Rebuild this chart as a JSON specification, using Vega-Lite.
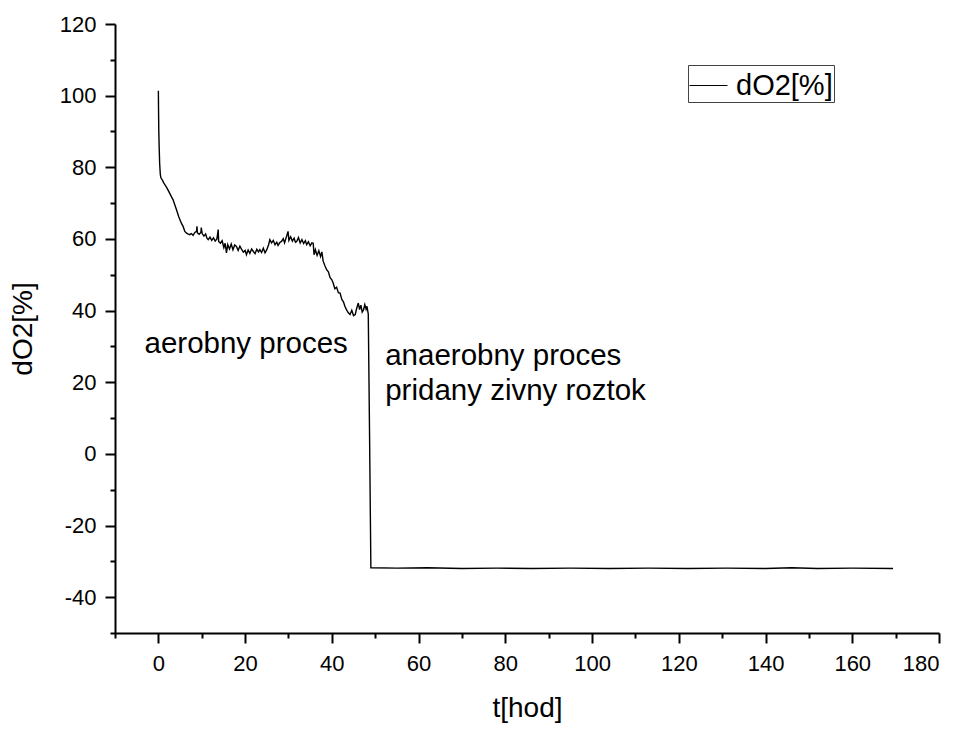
{
  "$schema": "https://vega.github.io/schema/vega-lite/v6.json",
  "autosize": "none",
  "width": 824,
  "height": 609,
  "padding": {"left": 115, "top": 24, "right": 26, "bottom": 98},
  "background": "white",
  "config": {
    "view": {"stroke": null},
    "font": "Liberation Sans",
    "axis": {
      "domainColor": "black",
      "domainWidth": 2,
      "tickColor": "black",
      "tickWidth": 2,
      "labelOverlap": false,
      "labelFont": "Liberation Sans",
      "labelFontSize": 22,
      "labelColor": "black",
      "titleFont": "Liberation Sans",
      "titleFontSize": 28,
      "titleFontWeight": "normal",
      "titleColor": "black",
      "grid": false
    }
  },
  "resolve": {"axis": {"x": "independent", "y": "independent"}},
  "layer": [
    {
      "data": {
        "values": [
          {"t": 0, "v": 101.4}, {"t": 0.05, "v": 95}, {"t": 0.1, "v": 90}, {"t": 0.2, "v": 85}, {"t": 0.3, "v": 81},
          {"t": 0.45, "v": 78}, {"t": 0.6, "v": 77}, {"t": 0.9, "v": 76.5}, {"t": 1.3, "v": 75.5}, {"t": 1.8, "v": 74.6},
          {"t": 2.3, "v": 73.5}, {"t": 3.0, "v": 71.8}, {"t": 3.4, "v": 70.9}, {"t": 3.8, "v": 69.5}, {"t": 4.2, "v": 68.1},
          {"t": 4.7, "v": 66.2}, {"t": 5.3, "v": 64.4}, {"t": 5.7, "v": 63.5}, {"t": 6.1, "v": 62.1}, {"t": 6.5, "v": 61.6},
          {"t": 6.8, "v": 61.4}, {"t": 7.2, "v": 61.2}, {"t": 7.6, "v": 61.5}, {"t": 8.0, "v": 61.0}, {"t": 8.4, "v": 61.8},
          {"t": 8.8, "v": 62.1}, {"t": 8.9, "v": 63.5}, {"t": 9.0, "v": 61.7}, {"t": 9.4, "v": 61.3}, {"t": 9.8, "v": 61.8},
          {"t": 9.9, "v": 63.2}, {"t": 10.1, "v": 61.5}, {"t": 10.5, "v": 60.8}, {"t": 10.9, "v": 61.4}, {"t": 11.2, "v": 60.2},
          {"t": 11.5, "v": 59.8}, {"t": 11.9, "v": 60.5}, {"t": 12.3, "v": 59.6}, {"t": 12.7, "v": 60.3}, {"t": 13.1, "v": 59.4},
          {"t": 13.5, "v": 60.0}, {"t": 13.8, "v": 62.6}, {"t": 13.9, "v": 59.3}, {"t": 14.3, "v": 58.8}, {"t": 14.7, "v": 59.5},
          {"t": 15.1, "v": 57.6}, {"t": 15.4, "v": 58.8}, {"t": 15.7, "v": 56.1}, {"t": 16.0, "v": 58.4}, {"t": 16.4, "v": 57.2},
          {"t": 16.8, "v": 58.6}, {"t": 17.2, "v": 57.0}, {"t": 17.6, "v": 58.3}, {"t": 18.0, "v": 57.9}, {"t": 18.4, "v": 56.8},
          {"t": 18.8, "v": 58.0}, {"t": 19.2, "v": 57.1}, {"t": 19.6, "v": 56.3}, {"t": 20.0, "v": 56.8}, {"t": 20.3, "v": 55.6},
          {"t": 20.7, "v": 56.9}, {"t": 21.1, "v": 56.0}, {"t": 21.5, "v": 57.2}, {"t": 21.9, "v": 56.5}, {"t": 22.3, "v": 55.9},
          {"t": 22.7, "v": 57.1}, {"t": 23.1, "v": 56.4}, {"t": 23.4, "v": 57.0}, {"t": 23.8, "v": 56.2}, {"t": 24.2, "v": 57.4},
          {"t": 24.6, "v": 56.1}, {"t": 25.0, "v": 57.0}, {"t": 25.4, "v": 58.3}, {"t": 25.7, "v": 59.8}, {"t": 26.1, "v": 58.9},
          {"t": 26.5, "v": 59.6}, {"t": 26.9, "v": 58.4}, {"t": 27.3, "v": 59.1}, {"t": 27.6, "v": 58.2}, {"t": 28.0, "v": 59.0},
          {"t": 28.4, "v": 59.3}, {"t": 28.8, "v": 60.1}, {"t": 29.1, "v": 58.9}, {"t": 29.5, "v": 60.5}, {"t": 29.9, "v": 62.1},
          {"t": 30.1, "v": 59.6}, {"t": 30.5, "v": 60.6}, {"t": 30.9, "v": 59.4}, {"t": 31.3, "v": 60.2}, {"t": 31.6, "v": 59.1},
          {"t": 31.9, "v": 59.3}, {"t": 32.3, "v": 60.4}, {"t": 32.7, "v": 58.9}, {"t": 33.1, "v": 59.8}, {"t": 33.5, "v": 58.7},
          {"t": 33.9, "v": 59.5}, {"t": 34.2, "v": 58.4}, {"t": 34.6, "v": 59.2}, {"t": 35.0, "v": 58.1}, {"t": 35.4, "v": 58.9},
          {"t": 35.7, "v": 58.8}, {"t": 35.9, "v": 55.6}, {"t": 36.2, "v": 57.0}, {"t": 36.6, "v": 55.4}, {"t": 37.0, "v": 56.7},
          {"t": 37.4, "v": 55.1}, {"t": 37.7, "v": 56.4}, {"t": 38.0, "v": 53.8}, {"t": 38.4, "v": 52.5}, {"t": 38.8, "v": 51.4},
          {"t": 39.2, "v": 50.8}, {"t": 39.6, "v": 49.2}, {"t": 40.0, "v": 48.6}, {"t": 40.3, "v": 47.7}, {"t": 40.7, "v": 46.1},
          {"t": 41.1, "v": 46.5}, {"t": 41.5, "v": 45.0}, {"t": 41.9, "v": 44.9}, {"t": 42.3, "v": 43.1}, {"t": 42.7, "v": 42.4},
          {"t": 43.0, "v": 41.2}, {"t": 43.4, "v": 40.2}, {"t": 43.8, "v": 39.4}, {"t": 44.2, "v": 38.9}, {"t": 44.6, "v": 40.1},
          {"t": 45.0, "v": 38.6}, {"t": 45.4, "v": 38.9}, {"t": 45.7, "v": 40.5}, {"t": 46.1, "v": 42.1}, {"t": 46.4, "v": 40.3},
          {"t": 46.7, "v": 41.5}, {"t": 47.0, "v": 39.6}, {"t": 47.3, "v": 40.2}, {"t": 47.6, "v": 41.7}, {"t": 47.9, "v": 40.4},
          {"t": 48.1, "v": 41.2}, {"t": 48.4, "v": 39.0}, {"t": 48.7, "v": 5.0}, {"t": 49.0, "v": -31.8},
          {"t": 55, "v": -31.9}, {"t": 62, "v": -31.8}, {"t": 70, "v": -32.0}, {"t": 78, "v": -31.9}, {"t": 86, "v": -32.0},
          {"t": 95, "v": -31.9}, {"t": 104, "v": -32.0}, {"t": 113, "v": -31.9}, {"t": 122, "v": -32.0}, {"t": 131, "v": -31.9},
          {"t": 140, "v": -32.0}, {"t": 146, "v": -31.8}, {"t": 152, "v": -32.0}, {"t": 160, "v": -31.9}, {"t": 169.4, "v": -32.0}
        ]
      },
      "transform": [{"calculate": "'dO2[%]'", "as": "series"}],
      "mark": {"type": "line", "strokeWidth": 1.4, "interpolate": "linear"},
      "encoding": {
        "x": {
          "field": "t", "type": "quantitative", "title": "t[hod]",
          "scale": {"domain": [-10, 180], "nice": false, "zero": false},
          "axis": {"orient": "bottom", "values": [0, 20, 40, 60, 80, 100, 120, 140, 160, 180], "labelExpr": "'' + datum.value", "tickSize": 10, "labelPadding": 10, "titlePadding": 20}
        },
        "y": {
          "field": "v", "type": "quantitative", "title": "dO2[%]",
          "scale": {"domain": [-50, 120], "nice": false, "zero": false},
          "axis": {"orient": "left", "values": [-40, -20, 0, 20, 40, 60, 80, 100, 120], "labelExpr": "'' + datum.value", "tickSize": 10, "labelPadding": 9, "titlePadding": 22}
        },
        "color": {
          "field": "series", "type": "nominal",
          "scale": {"range": ["black"]},
          "legend": {
            "orient": "none", "legendX": 573, "legendY": 41, "title": null,
            "strokeColor": "#444", "padding": 1,
            "symbolType": "stroke", "symbolSize": 1444, "symbolStrokeWidth": 1,
            "labelFont": "Liberation Sans", "labelFontSize": 29, "labelColor": "black", "labelOffset": 8
          }
        }
      }
    },
    {
      "data": {
        "values": [
          {"t": -3.2, "v": 28.3, "label": "aerobny proces"},
          {"t": 52.3, "v": 24.9, "label": "anaerobny proces"},
          {"t": 52.3, "v": 15.1, "label": "pridany zivny roztok"}
        ]
      },
      "mark": {"type": "text", "align": "left", "baseline": "alphabetic", "font": "Liberation Sans", "fontSize": 29.5, "color": "black"},
      "encoding": {
        "x": {
          "field": "t", "type": "quantitative",
          "axis": {"orient": "bottom", "values": [-10, 10, 30, 50, 70, 90, 110, 130, 150, 170], "tickSize": 5, "labels": false, "domain": false, "title": null}
        },
        "y": {
          "field": "v", "type": "quantitative",
          "axis": {"orient": "left", "values": [-50, -30, -10, 10, 30, 50, 70, 90, 110], "tickSize": 5, "labels": false, "domain": false, "title": null}
        },
        "text": {"field": "label"}
      }
    }
  ]
}
